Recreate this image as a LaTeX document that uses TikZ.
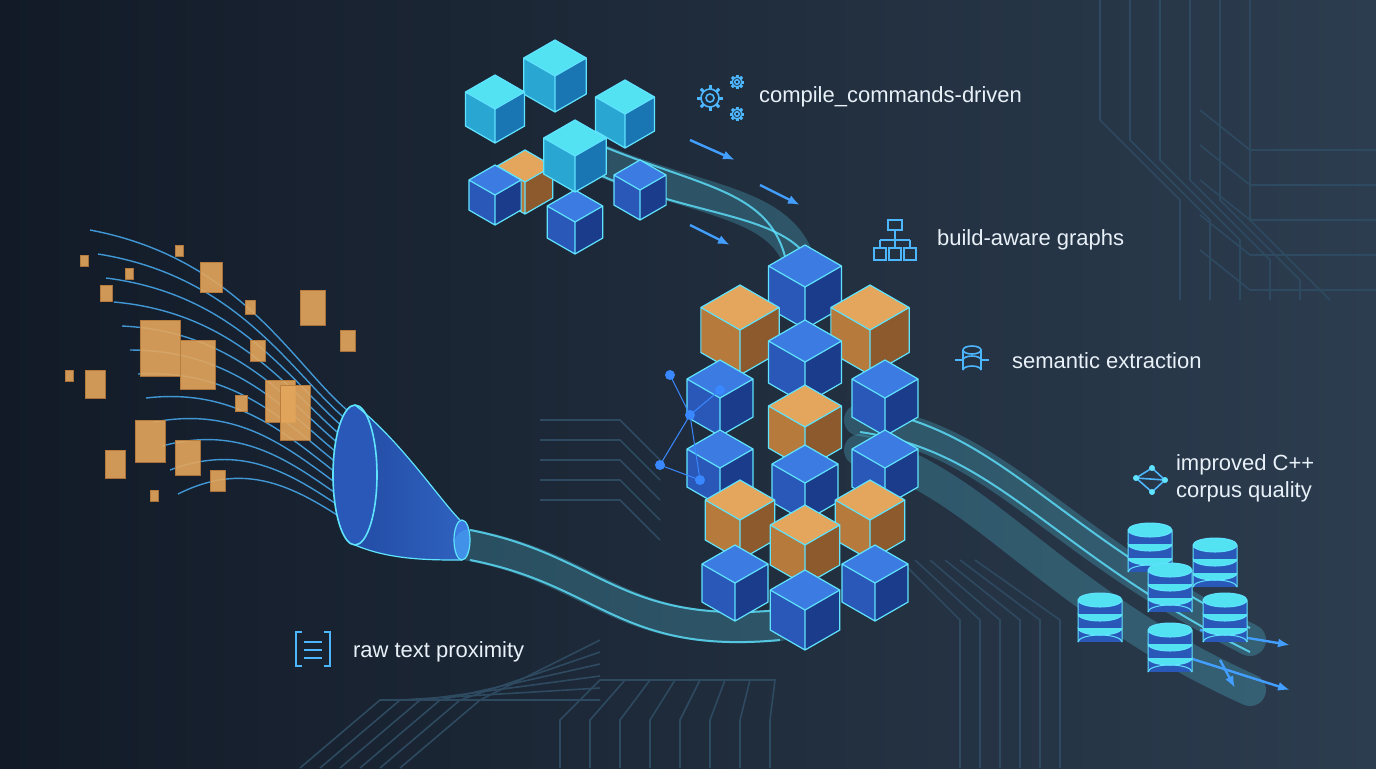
\documentclass[tikz,border=0pt]{standalone}
\usepackage{fontspec}
\setmainfont{Liberation Sans}
\usetikzlibrary{arrows.meta}
\definecolor{bgA}{HTML}{121A27}
\definecolor{bgB}{HTML}{2C3D4F}
\definecolor{glow}{HTML}{5FE3FF}
\definecolor{oT}{HTML}{E4A65C}\definecolor{oL}{HTML}{B67A3C}\definecolor{oR}{HTML}{8C5A2C}
\definecolor{bT}{HTML}{3B7BE2}\definecolor{bL}{HTML}{2A58B8}\definecolor{bR}{HTML}{1B3C8A}
\definecolor{cT}{HTML}{52E2F2}\definecolor{cL}{HTML}{2AA6D2}\definecolor{cR}{HTML}{1A76B2}
\definecolor{txt}{HTML}{E8F0F8}
\definecolor{circ}{HTML}{2E4A60}
\newcommand\isocube[4]{\begin{scope}[shift={(#1,#2)},scale=#3]
\fill[#4T] (0,0)--(0.87,0.5)--(0,1)--(-0.87,0.5)--cycle;
\fill[#4L] (-0.87,0.5)--(0,1)--(0,2)--(-0.87,1.5)--cycle;
\fill[#4R] (0.87,0.5)--(0,1)--(0,2)--(0.87,1.5)--cycle;
\draw[glow,line width=0.6pt,line join=round] (0,0)--(0.87,0.5)--(0.87,1.5)--(0,2)--(-0.87,1.5)--(-0.87,0.5)--cycle (-0.87,0.5)--(0,1)--(0.87,0.5) (0,1)--(0,2);
\end{scope}}
\newcommand\dbstack[2]{\begin{scope}[shift={(#1,#2)}]
\foreach \k in {2,1,0}{\fill[bL] (-22,\k*14) rectangle (22,\k*14+14);
\fill[cT] (0,\k*14) ellipse (22 and 7);
\draw[glow,line width=0.5pt] (0,\k*14) ellipse (22 and 7) (-22,\k*14)--(-22,\k*14+14) (22,\k*14)--(22,\k*14+14);}
\draw[glow,line width=0.5pt] (-22,42) arc (180:360:22 and 7);
\end{scope}}
\newcommand\gear[3]{\draw[icon] (#1,#2) circle (#3) (#1,#2) circle (#3*0.45);
\foreach \t in {0,45,...,315}{\draw[icon,line width=1.5pt] (#1,#2)++(\t:#3)--++(\t:#3*0.45);}}
\tikzset{
 lab/.style={text=txt,anchor=west,font=\fontsize{11}{13.5}\selectfont,align=left},
 pipe/.style={line width=16pt,draw=glow,opacity=0.22,line cap=round},
 pipein/.style={line width=1pt,draw=glow,opacity=0.8},
 stream/.style={line width=0.7pt,draw=glow!80!blue,opacity=0.8},
 icon/.style={draw=glow!80!blue,line width=0.8pt},
 cir/.style={draw=circ,line width=0.8pt},
 blk/.style={fill=oT,draw=oL,line width=0.5pt,opacity=0.9},
 arr/.style={-{Latex[length=6pt]},line width=1.2pt,draw=glow!70!blue}
}
\begin{document}
\begin{tikzpicture}[x=0.5pt,y=-0.5pt]
\shade[left color=bgA,right color=bgB] (0,0) rectangle (1376,768);
\useasboundingbox (0,0) rectangle (1376,768);
% circuit lines
\foreach \i in {0,...,7}{\draw[cir] (560+\i*30,768)--(560+\i*30,720)--(600+\i*25,680)--(700,680);}
\foreach \i in {0,...,5}{\draw[cir] (300+\i*20,768)--(380+\i*20,700)--(600,700-\i*12);}
\foreach \i in {0,...,5}{\draw[cir] (1100+\i*30,0)--(1100+\i*30,120+\i*20)--(1180+\i*30,200+\i*20)--(1180+\i*30,300);}
\foreach \i in {0,...,4}{\draw[cir] (1376,150+\i*35)--(1250,150+\i*35)--(1200,110+\i*35);}
\foreach \i in {0,...,5}{\draw[cir] (900+\i*15,560)--(960+\i*20,620)--(960+\i*20,768);}
\foreach \i in {0,...,4}{\draw[cir] (540,420+\i*20)--(620,420+\i*20)--(660,460+\i*20);}
% streams
\foreach \i in {0,...,11}{\draw[stream] (90+\i*8,230+\i*24) .. controls (250,260+\i*18) and (300,380+\i*10) .. (360,420+\i*10);}
% scattered orange blocks
\foreach \p/\w/\h in {140/320/40/70,180/340/35/60,265/380/30/45,300/290/25/30,175/440/25/30,85/370/20/15,100/285/12/20,200/262/22/12,135/420/30/20,65/370/8/12,250/340/15/25,340/330/15/20,210/470/15/25,150/490/8/12,235/395/12/12,105/450/20/10,80/255/8/12,175/245/8/10,125/268/8/12,245/300/10/15}{\fill[blk] (\p,\w) rectangle ++(\h,\h*1.4);}
\fill[blk] (280,385) rectangle (310,440);
% funnel
\fill[bR] (355,405) .. controls (400,440) and (440,500) .. (460,520) -- (462,560) .. controls (430,560) and (390,560) .. (355,545) -- cycle;
\shade[left color=bL,right color=bT,opacity=0.6] (355,405) .. controls (400,440) and (440,500) .. (460,520) -- (462,560) .. controls (430,560) and (390,560) .. (355,545) -- cycle;
\fill[bL] (355,475) ellipse (22 and 70);
\draw[glow,line width=0.8pt] (355,475) ellipse (22 and 70);
\draw[glow,line width=0.6pt] (355,405) .. controls (400,440) and (440,500) .. (460,520) (355,545) .. controls (390,560) and (430,560) .. (462,560);
\draw[glow,fill=bT,line width=0.6pt] (462,540) ellipse (8 and 20);
% pipes
\draw[pipe] (470,545) .. controls (600,570) and (620,640) .. (780,625);
\draw[pipein] (470,530) .. controls (600,555) and (620,625) .. (780,610);
\draw[pipein] (470,560) .. controls (600,585) and (620,655) .. (780,640);
\draw[pipe] (600,160) .. controls (720,210) and (805,200) .. (805,300);
\draw[pipein] (600,145) .. controls (720,195) and (790,190) .. (790,300);
\draw[pipein] (600,175) .. controls (710,225) and (820,210) .. (820,300);
\draw[pipe] (860,420) .. controls (1000,440) and (1050,540) .. (1250,640);
\draw[pipe] (860,450) .. controls (980,480) and (1050,600) .. (1250,690);
\foreach \d in {-12,12}{\draw[pipein] (860,420+\d) .. controls (1000,440+\d) and (1050,540+\d) .. (1250,640+\d);}
% top-left cluster
\isocube{555}{40}{36}{c}
\isocube{495}{75}{34}{c}
\isocube{625}{80}{34}{c}
\isocube{525}{150}{32}{o}
\isocube{495}{165}{30}{b}
\isocube{640}{160}{30}{b}
\isocube{575}{190}{32}{b}
\isocube{575}{120}{36}{c}
% central stack
\isocube{805}{245}{42}{b}
\isocube{740}{285}{45}{o}
\isocube{870}{285}{45}{o}
\isocube{805}{320}{42}{b}
\isocube{720}{360}{38}{b}
\isocube{885}{360}{38}{b}
\isocube{805}{385}{42}{o}
\isocube{720}{430}{38}{b}
\isocube{885}{430}{38}{b}
\isocube{805}{445}{38}{b}
\isocube{740}{480}{40}{o}
\isocube{870}{480}{40}{o}
\isocube{805}{505}{40}{o}
\isocube{735}{545}{38}{b}
\isocube{875}{545}{38}{b}
\isocube{805}{570}{40}{b}
% network nodes
\foreach \a/\b in {670/375,690/415,660/465,700/480,720/390}{\fill[glow!60!blue] (\a,\b) circle (5);}
\draw[glow!60!blue,line width=0.5pt] (670,375)--(690,415)--(660,465)--(700,480)--(690,415)--(720,390);
% arrows
\draw[arr] (690,140)--(735,160);
\draw[arr] (760,185)--(800,205);
\draw[arr] (690,225)--(730,245);
\draw[arr] (1200,630)--(1290,645);
\draw[arr] (1180,655)--(1290,690);
\draw[arr] (1220,660)--(1235,688);
% databases
\dbstack{1150}{530}
\dbstack{1215}{545}
\dbstack{1170}{570}
\dbstack{1100}{600}
\dbstack{1225}{600}
\dbstack{1170}{630}
% icons
\gear{710}{98}{9}
\gear{737}{82}{5}
\gear{737}{114}{5}
\draw[icon] (888,220) rectangle (902,230) (895,230)--(895,240) (880,240)--(910,240) (880,240)--(880,248) (895,240)--(895,248) (910,240)--(910,248);
\draw[icon] (874,248) rectangle (886,260) (889,248) rectangle (901,260) (904,248) rectangle (916,260);
\draw[icon] (972,350) ellipse (9 and 4) (963,350)--(963,370) (981,350)--(981,370) (963,360) arc (180:360:9 and 4) (963,370) arc (180:360:9 and 4);
\draw[icon] (955,360)--(963,360) (981,360)--(989,360);
\draw[icon] (1136,478)--(1152,468)--(1165,480)--(1152,492)--cycle (1136,478)--(1165,480);
\foreach \a/\b in {1136/478,1152/468,1165/480,1152/492}{\fill[glow] (\a,\b) circle (3);}
\draw[icon] (302,632)--(296,632)--(296,666)--(302,666) (324,632)--(330,632)--(330,666)--(324,666) (304,642)--(322,642) (304,650)--(322,650) (304,658)--(322,658);
% labels
\node[lab] (l1) at (752,97) {compile\_commands-driven};
\node[lab] (l2) at (930,240) {build-aware graphs};
\node[lab] (l3) at (1005,361) {semantic extraction};
\node[lab] (l4) at (1169,478) {improved C++\\corpus quality};
\node[lab] (l5) at (346,652) {raw text proximity};
\end{tikzpicture}
\end{document}
